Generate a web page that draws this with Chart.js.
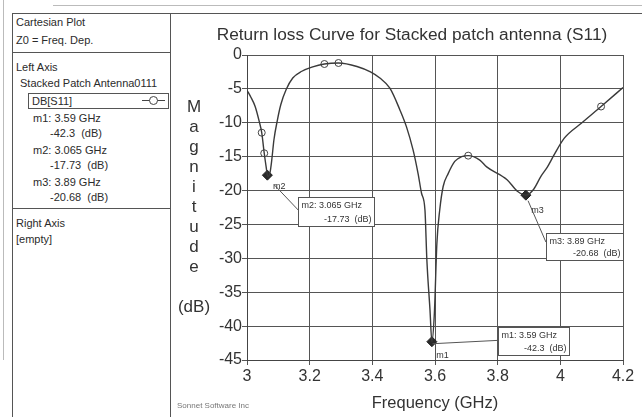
<!DOCTYPE html>
<html>
<head>
<meta charset="utf-8">
<title>Return loss Curve for Stacked patch antenna (S11)</title>
<script src="https://cdn.jsdelivr.net/npm/chart.js@4.4.1/dist/chart.umd.min.js"></script>
<style>
  html, body { margin: 0; padding: 0; background: #fff; }
  body {
    width: 642px; height: 417px; position: relative; overflow: hidden;
    font-family: "Liberation Sans", Arial, sans-serif; color: #2b2b2b;
  }
  #plot { position: absolute; left: 170px; top: 0; }
  .ln { position: absolute; background: #555; }
  .faint { background: #bbb; }
  .t { position: absolute; font-size: 11px; line-height: 14px; white-space: pre; }
  #legendBox { position: absolute; left: 28px; top: 93px; width: 139px; height: 14px; border: 1px solid #555; }
  #legendSym { position: absolute; left: 142px; top: 100px; width: 23px; height: 1px; background: #444; }
  #legendDot { position: absolute; left: 149px; top: 96px; width: 7px; height: 7px; border: 1px solid #444; border-radius: 50%; background: #fff; }
  #sonnet { position: absolute; left: 177px; top: 401px; font-size: 8px; color: #777; }
</style>
</head>
<body>

<!-- frame -->
<div class="ln faint" style="left:53px; top:5px; width:589px; height:1px;"></div>
<div class="ln faint" style="left:3px; top:0; width:1px; height:360px;"></div>
<div class="ln" style="left:12px; top:13px; width:630px; height:1px;"></div>
<div class="ln" style="left:12px; top:13px; width:1px; height:404px;"></div>
<div class="ln" style="left:170px; top:13px; width:1px; height:404px;"></div>
<div class="ln" style="left:12px; top:52px; width:158px; height:1px;"></div>
<div class="ln" style="left:12px; top:208px; width:158px; height:1px;"></div>

<canvas id="plot" width="472" height="417"></canvas>

<!-- left info panel -->
<div class="t" style="left:16px; top:15px;">Cartesian Plot</div>
<div class="t" style="left:16px; top:33px;">Z0 = Freq. Dep.</div>
<div class="t" style="left:16px; top:60px;">Left Axis</div>
<div class="t" style="left:20px; top:76px;">Stacked Patch Antenna0111</div>
<div id="legendBox"></div>
<div class="t" style="left:32px; top:94px;">DB[S11]</div>
<div id="legendSym"></div>
<div id="legendDot"></div>
<div id="markerList"></div>
<div class="t" style="left:16px; top:216px;">Right Axis</div>
<div class="t" style="left:16px; top:232px;">[empty]</div>
<div id="sonnet">Sonnet Software Inc</div>

<script>
// ---- data ----
const freqGHz = [3.000, 3.012, 3.026, 3.039, 3.047, 3.055, 3.062, 3.065, 3.068, 3.074,
                 3.079, 3.086, 3.097, 3.108, 3.125, 3.146, 3.175, 3.207, 3.247, 3.292,
                 3.351, 3.394, 3.424, 3.456, 3.488, 3.509, 3.530, 3.546, 3.557, 3.568,
                 3.574, 3.584, 3.590, 3.598, 3.606, 3.615, 3.626, 3.642, 3.663, 3.685,
                 3.706, 3.743, 3.765, 3.830, 3.863, 3.890, 3.915, 3.938, 3.959, 3.980,
                 4.012, 4.066, 4.130, 4.200];
const s11dB   = [-5.2, -6.2, -7.6, -9.8, -11.46, -14.5, -16.8, -17.73, -17.9, -17.2,
                 -15.5, -12.5, -9.6, -7.3, -5.1, -3.4, -2.4, -1.8, -1.33, -1.18,
                 -1.7, -2.5, -3.4, -4.9, -8.1, -10.6, -14.0, -17.5, -20.4, -22.9,
                 -30.2, -37.6, -42.3, -38.1, -27.8, -22.9, -19.4, -17.5, -15.7, -15.0,
                 -14.85, -15.5, -16.5, -18.4, -20.1, -20.68, -19.8, -17.9, -16.5, -14.75,
                 -12.3, -10.1, -7.6, -4.8];

// open circle symbols on the trace
const symbolFreq = [3.047, 3.055, 3.247, 3.292, 3.706, 4.130];
const symbolDB   = [-11.46, -14.5, -1.33, -1.18, -14.85, -7.6];

// markers
const markerName = ["m1", "m2", "m3"];
const markerFreq = [3.59, 3.065, 3.89];
const markerDB   = [-42.3, -17.73, -20.68];

const xTickVals = [3, 3.2, 3.4, 3.6, 3.8, 4, 4.2];
const yTickVals = [0, -5, -10, -15, -20, -25, -30, -35, -40, -45];

const titleText = "Return loss Curve for Stacked patch antenna (S11)";
const yTitleLetters = ["M", "a", "g", "n", "i", "t", "u", "d", "e"];

// marker readout boxes, placed in axis units (GHz, dB)
const readouts = {
  m1: { box: [3.802, -40.2, 4.027, -44.3], lead: [3.592, -42.6, 3.802, -42.1], tag: [3.604, -44.3] },
  m2: { box: [3.164, -20.9, 3.406, -25.2], lead: [3.088, -19.2, 3.164, -22.9], tag: [3.083, -19.4] },
  m3: { box: [3.954, -26.2, 4.201, -30.2], lead: [3.897, -21.5, 3.954, -27.6], tag: [3.907, -22.9] }
};

// left panel marker list
const list = document.getElementById("markerList");
markerName.forEach((n, i) => {
  const top = 111 + i * 32;
  list.insertAdjacentHTML("beforeend",
    `<div class="t" style="left:33px; top:${top}px;">${n}: ${markerFreq[i]} GHz</div>` +
    `<div class="t" style="left:50px; top:${top + 15}px;">${markerDB[i]}  (dB)</div>`);
});

const FONT = "'Liberation Sans', Arial, sans-serif";
const INK = "#333";

// extra drawing: title, stacked axis title, readout boxes
const decorations = {
  id: "decorations",
  afterDatasetsDraw(chart) {
    const { ctx, chartArea, scales } = chart;
    const X = v => scales.x.getPixelForValue(v);
    const Y = v => scales.y.getPixelForValue(v);
    ctx.save();
    ctx.fillStyle = INK;

    // title
    ctx.font = "17.3px " + FONT;
    ctx.textAlign = "center";
    ctx.textBaseline = "middle";
    ctx.fillText(titleText, 242, 35);

    // stacked y title
    ctx.font = "17px " + FONT;
    yTitleLetters.forEach((c, i) => ctx.fillText(c, chartArea.left - 53, chartArea.top + 52 + i * 20));
    ctx.fillText("(dB)", chartArea.left - 53, chartArea.top + 252);

    // readouts
    ctx.strokeStyle = "#555";
    ctx.lineWidth = 1;
    markerName.forEach((n, i) => {
      const r = readouts[n];
      ctx.beginPath();
      ctx.moveTo(X(r.lead[0]), Y(r.lead[1]));
      ctx.lineTo(X(r.lead[2]), Y(r.lead[3]));
      ctx.stroke();

      const l = Math.round(X(r.box[0])) + 0.5, t = Math.round(Y(r.box[1])) + 0.5;
      const rr = Math.round(X(r.box[2])) + 0.5, b = Math.round(Y(r.box[3])) + 0.5;
      ctx.fillStyle = "#fff";
      ctx.fillRect(l, t, rr - l, b - t);
      ctx.strokeRect(l, t, rr - l, b - t);

      ctx.fillStyle = INK;
      ctx.font = "9px " + FONT;
      ctx.textAlign = "left";
      ctx.fillText(`${n}: ${markerFreq[i]} GHz`, l + 3, t + 8);
      ctx.textAlign = "right";
      ctx.fillText(`${markerDB[i]}  (dB)`, rr - 3, b - 7);

      ctx.textAlign = "left";
      ctx.fillText(n, X(r.tag[0]), Y(r.tag[1]));
    });
    ctx.restore();
  }
};

new Chart(document.getElementById("plot"), {
  type: "line",
  data: {
    datasets: [
      {
        data: freqGHz.map((f, i) => ({ x: f, y: s11dB[i] })),
        borderColor: "#3a3a3a",
        borderWidth: 1.4,
        pointRadius: 0,
        cubicInterpolationMode: "monotone",
        fill: false
      },
      {
        data: symbolFreq.map((f, i) => ({ x: f, y: symbolDB[i] })),
        showLine: false,
        pointStyle: "circle",
        pointRadius: 3.5,
        pointBorderWidth: 1,
        pointBorderColor: "#444",
        pointBackgroundColor: "#fff"
      },
      {
        data: markerFreq.map((f, i) => ({ x: f, y: markerDB[i] })),
        showLine: false,
        pointStyle: "rectRot",
        pointRadius: 5,
        pointBorderWidth: 1,
        pointBorderColor: "#222",
        pointBackgroundColor: "#2a2a2a"
      }
    ]
  },
  options: {
    responsive: false,
    animation: false,
    devicePixelRatio: 1,
    layout: { padding: { left: 0, right: 19, top: 55, bottom: 0 } },
    plugins: { legend: { display: false }, tooltip: { enabled: false }, title: { display: false } },
    scales: {
      x: {
        type: "linear",
        min: 3, max: 4.2,
        afterBuildTicks: s => { s.ticks = xTickVals.map(v => ({ value: v })); },
        afterFit: s => { s.height = 57; },
        ticks: {
          callback: v => String(Number(v.toFixed(1))),
          font: { family: FONT, size: 16 },
          color: INK,
          padding: 2,
          maxRotation: 0
        },
        grid: { color: "#555", lineWidth: 1, tickLength: 5 },
        border: { color: "#444" },
        title: {
          display: true,
          text: "Frequency (GHz)",
          font: { family: FONT, size: 16.5 },
          color: INK,
          padding: { top: 0, bottom: 4 }
        }
      },
      y: {
        min: -45, max: 0,
        afterBuildTicks: s => { s.ticks = yTickVals.map(v => ({ value: v })); },
        afterFit: s => { s.width = 77; },
        ticks: {
          font: { family: FONT, size: 16 },
          color: INK,
          padding: 0
        },
        grid: { color: "#555", lineWidth: 1, tickLength: 5 },
        border: { color: "#444" }
      }
    }
  },
  plugins: [decorations]
});
</script>
</body>
</html>
